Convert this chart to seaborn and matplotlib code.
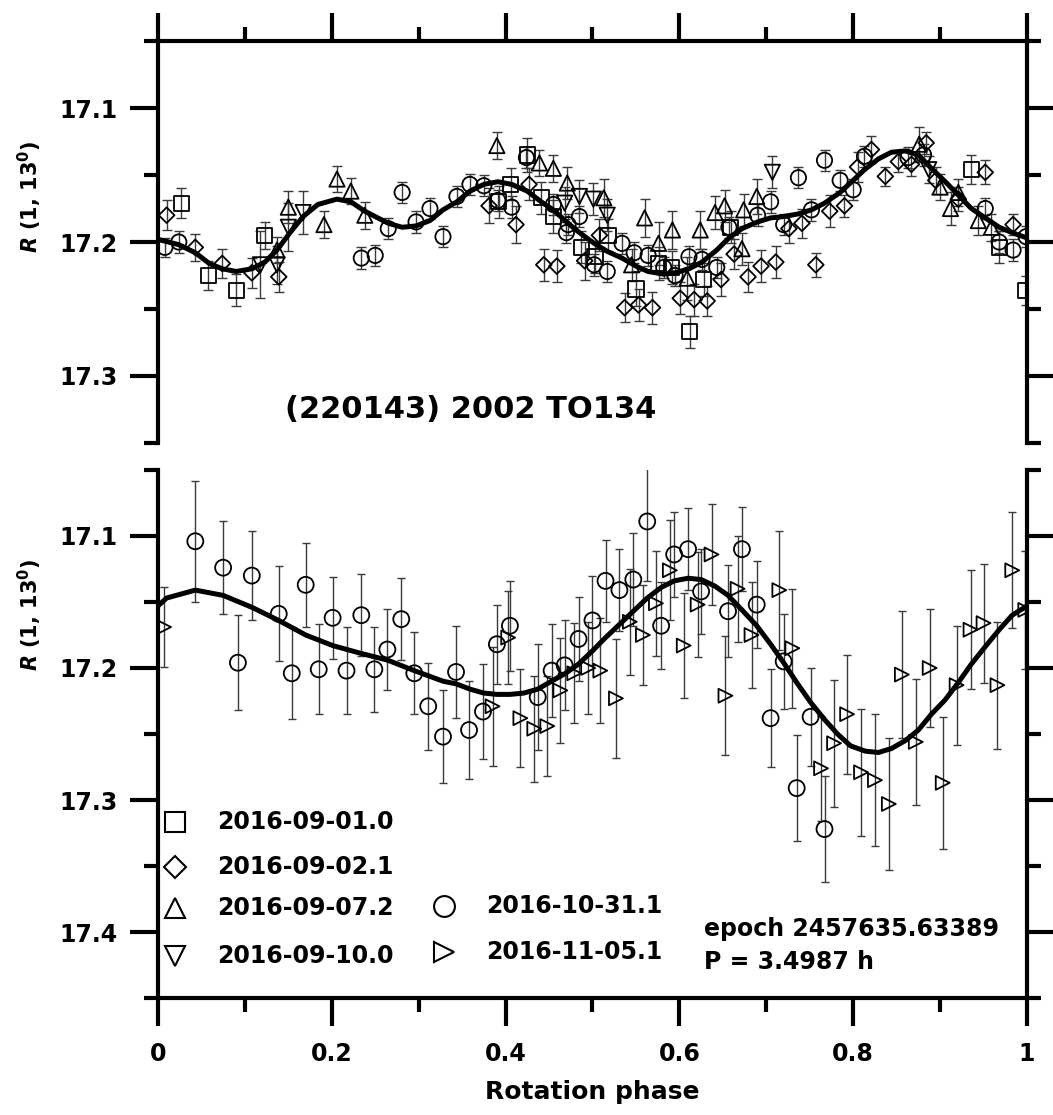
# Lightcurve of (220143) 2002 TO134 -- two panels, shared rotation phase
import numpy as np
import matplotlib
matplotlib.use('Agg')
import matplotlib.pyplot as plt
import seaborn as sns
from matplotlib.ticker import MultipleLocator, FixedLocator

# ------------------------------------------------------------- #
# Data
# ------------------------------------------------------------- #

# top panel : 2016 September runs (+ circles)
sq_x = [0.027, 0.058, 0.090, 0.123, 0.392, 0.406, 0.425, 0.441, 0.455, 0.487, 0.503,
        0.518, 0.550, 0.576, 0.591, 0.612, 0.628, 0.659, 0.936, 0.968, 0.999]
sq_y = [17.171, 17.225, 17.236, 17.195, 17.170, 17.157, 17.135, 17.167, 17.181, 17.204, 17.211,
        17.195, 17.235, 17.216, 17.219, 17.267, 17.228, 17.189, 17.146, 17.204, 17.236]
sq_e = [0.011, 0.011, 0.012, 0.010, 0.012, 0.012, 0.013, 0.012, 0.012, 0.012, 0.012,
        0.012, 0.013, 0.012, 0.012, 0.012, 0.012, 0.012, 0.011, 0.012, 0.011]

di_x = [0.010, 0.043, 0.074, 0.108, 0.139, 0.381, 0.412, 0.427, 0.444, 0.459, 0.491,
        0.508, 0.537, 0.553, 0.569, 0.601, 0.617, 0.632, 0.648, 0.663, 0.679, 0.694,
        0.711, 0.726, 0.741, 0.757, 0.773, 0.790, 0.805, 0.821, 0.837, 0.852, 0.867,
        0.884, 0.895, 0.921, 0.952, 0.984]
di_y = [17.180, 17.204, 17.216, 17.223, 17.226, 17.173, 17.187, 17.157, 17.217, 17.218, 17.214,
        17.195, 17.249, 17.247, 17.249, 17.242, 17.243, 17.244, 17.228, 17.209, 17.226, 17.218,
        17.215, 17.190, 17.186, 17.217, 17.177, 17.173, 17.144, 17.131, 17.151, 17.140, 17.142,
        17.126, 17.154, 17.168, 17.148, 17.187]
di_e = [0.011, 0.010, 0.011, 0.011, 0.011, 0.013, 0.014, 0.012, 0.012, 0.012, 0.014,
        0.012, 0.011, 0.012, 0.012, 0.012, 0.012, 0.011, 0.012, 0.011, 0.011, 0.012,
        0.012, 0.011, 0.011, 0.009, 0.012, 0.008, 0.011, 0.010, 0.007, 0.008, 0.009,
        0.008, 0.010, 0.009, 0.009, 0.008]

tu_x = [0.137, 0.150, 0.191, 0.206, 0.222, 0.238, 0.390, 0.439, 0.455, 0.471, 0.513,
        0.545, 0.560, 0.576, 0.592, 0.609, 0.624, 0.641, 0.652, 0.672, 0.674, 0.689,
        0.876, 0.900, 0.912, 0.921, 0.944, 0.959]
tu_y = [17.206, 17.174, 17.187, 17.153, 17.162, 17.180, 17.128, 17.141, 17.145, 17.156, 17.167,
        17.217, 17.182, 17.201, 17.191, 17.227, 17.191, 17.178, 17.173, 17.205, 17.176, 17.166,
        17.127, 17.159, 17.175, 17.163, 17.184, 17.189]
tu_e = [0.010, 0.012, 0.010, 0.010, 0.010, 0.010, 0.010, 0.010, 0.010, 0.012, 0.014,
        0.012, 0.014, 0.016, 0.014, 0.016, 0.014, 0.012, 0.012, 0.012, 0.012, 0.013,
        0.013, 0.010, 0.012, 0.010, 0.011, 0.010]

td_x = [0.118, 0.137, 0.150, 0.167, 0.468, 0.485, 0.501, 0.517, 0.707, 0.887]
td_y = [17.217, 17.217, 17.189, 17.178, 17.171, 17.166, 17.168, 17.180, 17.148, 17.146]
td_e = [0.025, 0.014, 0.018, 0.016, 0.012, 0.012, 0.012, 0.012, 0.012, 0.010]

ct_x = [0.008, 0.024, 0.234, 0.250, 0.265, 0.281, 0.297, 0.313, 0.328, 0.344, 0.359,
        0.375, 0.391, 0.407, 0.424, 0.455, 0.470, 0.472, 0.485, 0.502, 0.517, 0.534,
        0.548, 0.564, 0.582, 0.595, 0.611, 0.626, 0.643, 0.657, 0.690, 0.705, 0.720,
        0.737, 0.752, 0.767, 0.785, 0.800, 0.813, 0.863, 0.881, 0.952, 0.968, 0.984, 0.999]
ct_y = [17.204, 17.200, 17.212, 17.210, 17.190, 17.163, 17.185, 17.175, 17.196, 17.166, 17.157,
        17.158, 17.169, 17.174, 17.137, 17.172, 17.193, 17.187, 17.181, 17.217, 17.222, 17.201,
        17.208, 17.210, 17.219, 17.225, 17.211, 17.213, 17.219, 17.189, 17.180, 17.170, 17.187,
        17.152, 17.176, 17.139, 17.154, 17.161, 17.136, 17.137, 17.135, 17.175, 17.200, 17.206, 17.196]
ct_e = [0.007, 0.008, 0.008, 0.008, 0.008, 0.008, 0.008, 0.008, 0.008, 0.008, 0.008,
        0.008, 0.008, 0.008, 0.008, 0.008, 0.008, 0.008, 0.008, 0.008, 0.008, 0.008,
        0.008, 0.008, 0.008, 0.008, 0.008, 0.008, 0.008, 0.008, 0.008, 0.008, 0.008,
        0.008, 0.008, 0.008, 0.008, 0.008, 0.008, 0.008, 0.008, 0.008, 0.008, 0.008, 0.008]

# top panel fitted curve
fit1_x = [0.0, 0.024, 0.043, 0.059, 0.074, 0.090, 0.108, 0.123, 0.137, 0.152, 0.167, 0.184,
          0.206, 0.222, 0.238, 0.265, 0.281, 0.297, 0.313, 0.328, 0.344, 0.359, 0.375, 0.391,
          0.407, 0.425, 0.441, 0.455, 0.470, 0.485, 0.502, 0.517, 0.534, 0.550, 0.564, 0.582,
          0.595, 0.611, 0.626, 0.643, 0.657, 0.672, 0.690, 0.705, 0.720, 0.737, 0.752, 0.767,
          0.785, 0.800, 0.813, 0.829, 0.844, 0.860, 0.875, 0.890, 0.906, 0.921, 0.936, 0.952,
          0.968, 0.983, 1.0]
fit1_y = [17.198, 17.202, 17.208, 17.216, 17.220, 17.222, 17.220, 17.215, 17.206, 17.193, 17.181, 17.172,
          17.168, 17.170, 17.177, 17.186, 17.189, 17.188, 17.184, 17.176, 17.170, 17.162, 17.157, 17.155,
          17.157, 17.162, 17.170, 17.176, 17.185, 17.193, 17.201, 17.207, 17.212, 17.218, 17.222, 17.224,
          17.223, 17.220, 17.215, 17.206, 17.197, 17.190, 17.185, 17.182, 17.181, 17.179, 17.176, 17.171,
          17.163, 17.154, 17.146, 17.138, 17.133, 17.132, 17.135, 17.145, 17.155, 17.165, 17.175, 17.182,
          17.189, 17.193, 17.197]

# bottom panel : 2016 Oct/Nov runs
cb_x = [0.043, 0.075, 0.092, 0.108, 0.139, 0.154, 0.170, 0.185, 0.201, 0.217, 0.234,
        0.249, 0.264, 0.280, 0.295, 0.311, 0.328, 0.343, 0.358, 0.374, 0.390, 0.405,
        0.437, 0.453, 0.468, 0.484, 0.500, 0.515, 0.531, 0.547, 0.563, 0.579, 0.594,
        0.610, 0.625, 0.656, 0.672, 0.689, 0.705, 0.720, 0.735, 0.751, 0.767]
cb_y = [17.104, 17.124, 17.196, 17.130, 17.159, 17.204, 17.137, 17.201, 17.162, 17.202, 17.160,
        17.201, 17.186, 17.163, 17.204, 17.229, 17.252, 17.203, 17.247, 17.233, 17.182, 17.168,
        17.222, 17.202, 17.198, 17.178, 17.164, 17.134, 17.141, 17.133, 17.089, 17.168, 17.114,
        17.110, 17.142, 17.157, 17.110, 17.152, 17.238, 17.195, 17.291, 17.237, 17.322]
cb_e = [0.046, 0.035, 0.036, 0.034, 0.036, 0.035, 0.032, 0.034, 0.031, 0.033, 0.031,
        0.032, 0.031, 0.031, 0.031, 0.033, 0.035, 0.035, 0.037, 0.036, 0.030, 0.034,
        0.040, 0.035, 0.034, 0.032, 0.034, 0.031, 0.031, 0.035, 0.045, 0.033, 0.032,
        0.031, 0.032, 0.035, 0.032, 0.033, 0.037, 0.036, 0.040, 0.037, 0.040]

rt_x = [0.007, 0.385, 0.403, 0.417, 0.433, 0.448, 0.463, 0.479, 0.495, 0.509, 0.527,
        0.543, 0.558, 0.573, 0.589, 0.605, 0.621, 0.637, 0.653, 0.667, 0.683, 0.715,
        0.730, 0.763, 0.778, 0.793, 0.809, 0.825, 0.841, 0.856, 0.872, 0.888, 0.903,
        0.919, 0.935, 0.950, 0.966, 0.983, 0.998]
rt_y = [17.169, 17.229, 17.177, 17.238, 17.246, 17.244, 17.217, 17.204, 17.200, 17.202, 17.223,
        17.165, 17.175, 17.151, 17.126, 17.183, 17.152, 17.114, 17.221, 17.140, 17.175, 17.141,
        17.185, 17.276, 17.257, 17.235, 17.279, 17.285, 17.303, 17.205, 17.256, 17.200, 17.287,
        17.213, 17.171, 17.166, 17.213, 17.126, 17.156]
rt_e = [0.030, 0.045, 0.035, 0.037, 0.040, 0.038, 0.040, 0.038, 0.035, 0.040, 0.045,
        0.040, 0.038, 0.040, 0.038, 0.040, 0.040, 0.038, 0.045, 0.040, 0.040, 0.045,
        0.045, 0.040, 0.048, 0.045, 0.048, 0.050, 0.050, 0.048, 0.048, 0.045, 0.050,
        0.045, 0.045, 0.045, 0.048, 0.044, 0.045]

# bottom panel fitted curve
fit2_x = [0.0, 0.010, 0.043, 0.075, 0.108, 0.139, 0.170, 0.201, 0.234, 0.264, 0.295, 0.328,
          0.343, 0.359, 0.375, 0.390, 0.405, 0.421, 0.437, 0.453, 0.469, 0.484, 0.500, 0.515,
          0.531, 0.547, 0.563, 0.579, 0.594, 0.610, 0.625, 0.641, 0.656, 0.672, 0.689, 0.705,
          0.720, 0.735, 0.751, 0.767, 0.782, 0.797, 0.814, 0.829, 0.844, 0.860, 0.875, 0.890,
          0.906, 0.921, 0.936, 0.953, 0.968, 0.983, 1.0]
fit2_y = [17.153, 17.147, 17.141, 17.145, 17.154, 17.164, 17.175, 17.183, 17.189, 17.194, 17.202, 17.210,
          17.212, 17.216, 17.219, 17.220, 17.220, 17.219, 17.216, 17.210, 17.204, 17.197, 17.187, 17.177,
          17.167, 17.157, 17.147, 17.139, 17.134, 17.132, 17.133, 17.138, 17.145, 17.156, 17.168, 17.182,
          17.196, 17.211, 17.226, 17.239, 17.250, 17.259, 17.263, 17.264, 17.261, 17.255, 17.247, 17.235,
          17.224, 17.211, 17.197, 17.183, 17.171, 17.160, 17.153]

# tick labels
x_ticks = [0, 0.2, 0.4, 0.6, 0.8, 1.0]
x_ticklabels = ['0', '0.2', '0.4', '0.6', '0.8', '1']
y1_ticks = [17.1, 17.2, 17.3]
y2_ticks = [17.1, 17.2, 17.3, 17.4]

# legend entries
leg_labels = ['2016-09-01.0', '2016-09-02.1', '2016-09-07.2', '2016-09-10.0',
              '2016-10-31.1', '2016-11-05.1']
leg_markers = ['s', 'D', '^', 'v', 'o', '>']

ylab = r'$\mathit{R}$ (1, 13$^{\mathrm{0}}$)'

# ------------------------------------------------------------- #
# Style
# ------------------------------------------------------------- #
sns.set_style('ticks')
plt.rcParams['font.family'] = ['DejaVu Sans']
plt.rcParams['font.weight'] = 'bold'
plt.rcParams['text.color'] = 'black'
plt.rcParams['axes.labelcolor'] = 'black'
plt.rcParams['xtick.color'] = 'black'
plt.rcParams['ytick.color'] = 'black'
plt.rcParams['mathtext.fontset'] = 'custom'
plt.rcParams['mathtext.it'] = 'DejaVu Sans:italic:bold'
plt.rcParams['mathtext.rm'] = 'DejaVu Sans:bold'

lw_ax = 3.0


def style_axes(ax, top):
    for s in ax.spines.values():
        s.set_linewidth(lw_ax)
        s.set_color('black')
    ax.spines['bottom' if top else 'top'].set_visible(False)
    ax.set_xlim(0, 1)
    ax.xaxis.set_major_locator(FixedLocator(x_ticks))
    ax.xaxis.set_minor_locator(MultipleLocator(0.1))
    ax.yaxis.set_minor_locator(MultipleLocator(0.05))
    ax.tick_params(which='major', direction='out', length=20, width=lw_ax, color='black',
                   labelsize=17, labelcolor='black')
    ax.tick_params(which='minor', direction='out', length=10, width=lw_ax, color='black')
    ax.tick_params(axis='y', which='both', left=True, right=True, labelright=False, pad=9)
    if top:
        ax.tick_params(axis='x', which='both', top=True, bottom=False,
                       labeltop=False, labelbottom=False)
    else:
        ax.tick_params(axis='x', which='both', top=False, bottom=True, pad=12)


def draw_series(ax, x, y, e, marker, ms, cap):
    ax.errorbar(x, y, yerr=e, fmt='none', ecolor='#3a3a3a', elinewidth=1.0,
                capsize=cap, capthick=1.0, zorder=2)
    sns.scatterplot(x=x, y=y, ax=ax, marker=marker, s=ms ** 2, facecolors='none',
                    edgecolor='black', linewidth=1.3, zorder=3, legend=False)


fig = plt.figure(figsize=(10.53, 11.15), dpi=100)
ax1 = fig.add_axes([0.150, 0.6027, 0.8253, 0.3605])
ax2 = fig.add_axes([0.150, 0.1049, 0.8253, 0.4736])

# top panel
draw_series(ax1, ct_x, ct_y, ct_e, 'o', 11, 3.5)
draw_series(ax1, sq_x, sq_y, sq_e, 's', 11, 3.5)
draw_series(ax1, di_x, di_y, di_e, 'D', 8, 3.5)
draw_series(ax1, tu_x, tu_y, tu_e, '^', 11, 3.5)
draw_series(ax1, td_x, td_y, td_e, 'v', 11, 3.5)
sns.lineplot(x=fit1_x, y=fit1_y, ax=ax1, color='black', linewidth=3.6, sort=False,
             estimator=None, zorder=4)
ax1.set_ylim(17.35, 17.05)
ax1.set_xlabel('')
ax1.set_ylabel('')
ax1.text(0.36, 17.325, '(220143) 2002 TO134', ha='center', va='center',
         fontsize=22, fontweight='bold')
style_axes(ax1, True)
ax1.yaxis.set_major_locator(FixedLocator(y1_ticks))
ax1.set_yticklabels([f'{v:.1f}' for v in y1_ticks], fontweight='bold', fontsize=17)

# bottom panel
draw_series(ax2, cb_x, cb_y, cb_e, 'o', 11.5, 3.0)
draw_series(ax2, rt_x, rt_y, rt_e, '>', 10, 3.0)
sns.lineplot(x=fit2_x, y=fit2_y, ax=ax2, color='black', linewidth=3.6, sort=False,
             estimator=None, zorder=4)
ax2.set_ylim(17.45, 17.05)
ax2.set_ylabel('')
style_axes(ax2, False)
ax2.yaxis.set_major_locator(FixedLocator(y2_ticks))
ax2.set_yticklabels([f'{v:.1f}' for v in y2_ticks], fontweight='bold', fontsize=17)
ax2.set_xticklabels(x_ticklabels, fontweight='bold', fontsize=17)
ax2.set_xlabel('Rotation phase', fontsize=18, fontweight='bold', labelpad=10)

# hand-made legend
leg_pos = [(0.0196, 17.317), (0.0196, 17.351), (0.0196, 17.382), (0.0196, 17.418),
           (0.329, 17.380), (0.329, 17.415)]
for (lx, ly), m, t in zip(leg_pos, leg_markers, leg_labels):
    ax2.plot([lx], [ly], marker=m, ms=15 if m != 'D' else 11, mfc='none', mec='black',
             mew=1.5, ls='none', clip_on=False)
    ax2.text(lx + 0.0485, ly, t, ha='left', va='center', fontsize=17, fontweight='bold')
ax2.text(0.628, 17.398, 'epoch 2457635.63389', ha='left', va='center',
         fontsize=17, fontweight='bold')
ax2.text(0.628, 17.423, 'P = 3.4987 h', ha='left', va='center',
         fontsize=17, fontweight='bold')

# y labels (placed by hand, as in the original)
fig.text(0.028, 1 - 197 / 1115, ylab, rotation=90, ha='center', va='center',
         fontsize=15, fontweight='bold')
fig.text(0.028, 1 - 615 / 1115, ylab, rotation=90, ha='center', va='center',
         fontsize=15, fontweight='bold')

plt.savefig('out.png', dpi=100)
plt.close()
